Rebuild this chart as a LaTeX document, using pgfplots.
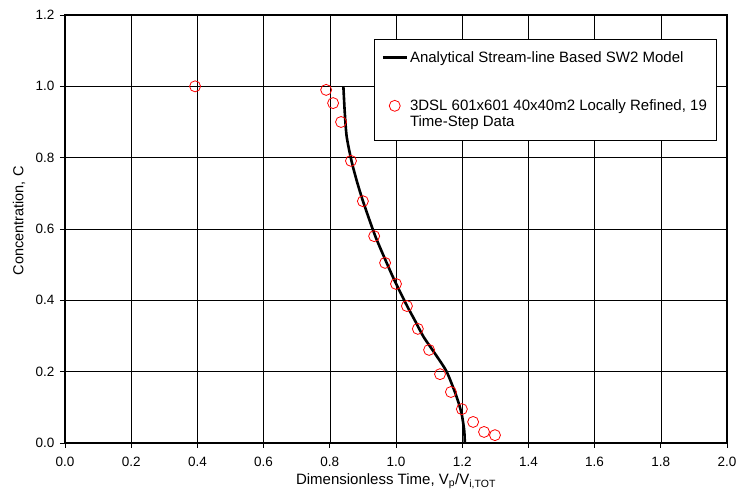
\documentclass[border=0pt]{standalone}
\usepackage{fontspec}
\setmainfont{Liberation Sans}
\usepackage{pgfplots}
\pgfplotsset{compat=1.18}
\pgfplotsset{
  linelegend/.style={legend image code/.code={\draw[##1, line width=2.6pt] (0pt,0pt) -- (24pt,0pt);}},
  marklegend/.style={legend image code/.code={\draw[##1] plot coordinates {(12pt,8pt)};}},
}
\begin{document}
\begin{tikzpicture}
\begin{axis}[
  scale only axis,
  width=662pt, height=428pt,
  xmin=0, xmax=2, ymin=0, ymax=1.2,
  xtick={0,0.2,...,2.01}, ytick={0,0.2,...,1.21},
  grid=major,
  major grid style={black, line width=0.6pt},
  axis line style={black, line width=1.6pt},
  tick align=outside, tick pos=left,
  major tick length=5pt,
  tick style={black, line width=0.8pt},
  /pgf/number format/assume math mode=true,
  /pgf/number format/.cd, fixed, fixed zerofill, precision=1, /tikz/.cd,
  tick label style={font=\fontsize{13.5}{16}\selectfont},
  xticklabel style={yshift=-6pt},
  yticklabel style={xshift=-2pt},
  xlabel={Dimensionless Time, V\textsubscript{p}/V\textsubscript{i,TOT}},
  ylabel={Concentration, C},
  xlabel style={font=\fontsize{15}{17}\selectfont},
  ylabel style={font=\fontsize{14.5}{17}\selectfont, at={(axis description cs:-0.0695,0.519)}, anchor=center},
  legend style={at={(0.467,0.944)}, anchor=north west, draw=black, line width=0.6pt, fill=white,
    font=\fontsize{15}{16}\selectfont, cells={anchor=west, align=left},
    row sep=32pt, inner xsep=7pt, inner ysep=10pt},
  legend cell align=left,
]
\addplot[black, line width=2.6pt, smooth, tension=0.4, linelegend]
coordinates {
(0.841,1.0) (0.845,0.93) (0.851,0.859) (0.866,0.789) (0.883,0.73) (0.901,0.676)
(0.937,0.581) (0.977,0.494) (0.999,0.449) (1.033,0.385) (1.058,0.342) (1.083,0.298)
(1.119,0.249) (1.153,0.2) (1.183,0.13) (1.198,0.083) (1.206,0.036) (1.208,0.0)
};
\addlegendentry{Analytical Stream-line Based SW2 Model}
\addplot[only marks, mark=o, mark size=5.5pt, mark options={draw=red, fill=white, line width=0.8pt}, marklegend]
coordinates {
(0.393,1.0) (0.789,0.990) (0.810,0.953) (0.834,0.900) (0.864,0.791) (0.900,0.678)
(0.934,0.580) (0.967,0.505) (1.000,0.446) (1.033,0.384) (1.066,0.320) (1.100,0.261)
(1.133,0.193) (1.166,0.143) (1.199,0.095) (1.233,0.059) (1.266,0.031) (1.299,0.022)
};
\addlegendentry{3DSL 601x601 40x40m2 Locally Refined, 19\\Time-Step Data}
\coordinate (O) at (rel axis cs:0,0);
\coordinate (T) at (rel axis cs:1,1);
\end{axis}
\pgfresetboundingbox
\path[use as bounding box] ([xshift=-65pt,yshift=-54pt]O) rectangle ([xshift=10pt,yshift=15pt]T);
\end{tikzpicture}
\end{document}
